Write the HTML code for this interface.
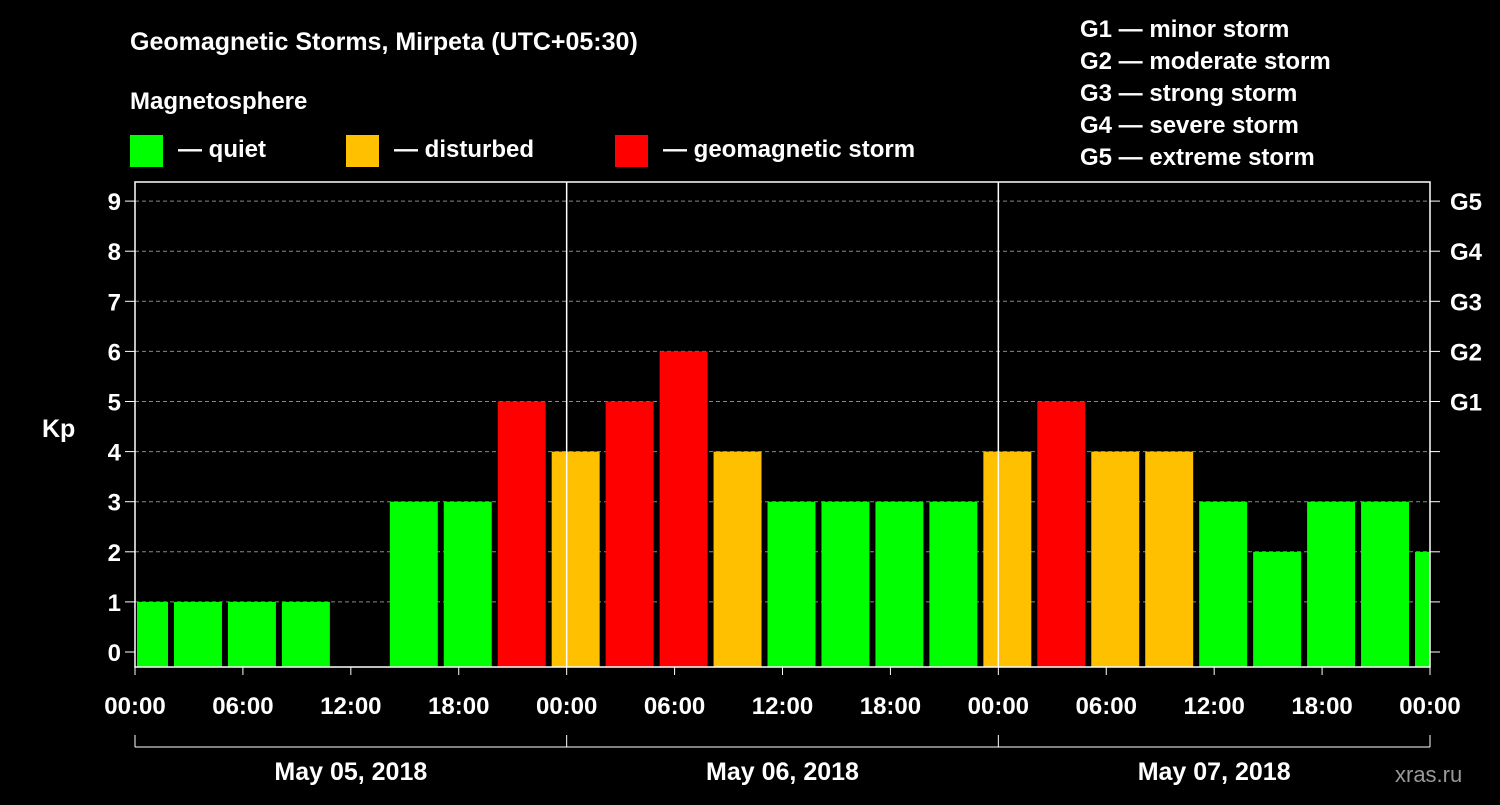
<!DOCTYPE html>
<html><head><meta charset="utf-8"><style>
body{margin:0;background:#000;}
svg text{font-family:"Liberation Sans",Arial,sans-serif;font-weight:bold;fill:#fff;}
</style></head><body>
<svg id="chart" width="1500" height="800" xmlns="http://www.w3.org/2000/svg">
<rect width="1500" height="800" fill="#000"/>
<text x="130" y="50" font-size="25">Geomagnetic Storms, Mirpeta (UTC+05:30)</text>
<text x="130" y="109" font-size="24">Magnetosphere</text>
<g>
<rect x="130" y="135" width="33" height="32" fill="#00ff00"/>
<text x="178" y="157" font-size="24">— quiet</text>
<rect x="346" y="135" width="33" height="32" fill="#ffc000"/>
<text x="394" y="157" font-size="24">— disturbed</text>
<rect x="615" y="135" width="33" height="32" fill="#ff0000"/>
<text x="663" y="157" font-size="24">— geomagnetic storm</text>
</g>
<g font-size="24">
<text x="1080" y="37">G1 — minor storm</text>
<text x="1080" y="69">G2 — moderate storm</text>
<text x="1080" y="101">G3 — strong storm</text>
<text x="1080" y="133">G4 — severe storm</text>
<text x="1080" y="165">G5 — extreme storm</text>
</g>
<text x="42" y="437" font-size="25">Kp</text>
<text x="1395" y="782" font-size="22" fill="#888" style="fill:#999;font-weight:normal">xras.ru</text>
<g id="grid"></g><g id="bars"></g><g id="axes"></g>
</svg>
<script>
const kpValues=[1,1,1,1,0,3,3,5,4,5,6,4,3,3,3,3,4,5,4,4,3,2,3,3,2];
const yTicks=[0,1,2,3,4,5,6,7,8,9];
const gLabels=["","","","","","G1","G2","G3","G4","G5"];
const xTickLabels=["00:00","06:00","12:00","18:00","00:00","06:00","12:00","18:00","00:00","06:00","12:00","18:00","00:00"];
const dayLabels=["May 05, 2018","May 06, 2018","May 07, 2018"];
const firstBarStartHour=-0.833, barSpanHours=2.667;
const NS="http://www.w3.org/2000/svg";
const L=135,R=1430,T=182,B=667;
const x=h=>L+(R-L)*h/72;
const y=v=>652-v*50.1;
function mk(tag,at,parent){const e=document.createElementNS(NS,tag);for(const k in at)e.setAttribute(k,at[k]);parent.appendChild(e);return e;}
const grid=document.getElementById('grid'),bars=document.getElementById('bars'),axes=document.getElementById('axes');
yTicks.forEach(v=>{
 if(v>0){const gl=mk('line',{x1:L,x2:R,y1:y(v),y2:y(v),stroke:'#888','stroke-dasharray':'4,3','stroke-width':1},grid);
 }
 mk('line',{x1:L-10,x2:L,y1:y(v),y2:y(v),stroke:'#fff'},axes);
 mk('line',{x1:R,x2:R+10,y1:y(v),y2:y(v),stroke:'#fff'},axes);
 const t=mk('text',{x:L-14,y:y(v)+9,'font-size':24,'text-anchor':'end'},axes);t.textContent=v;
 
 if(gLabels[v]){const g=mk('text',{x:R+20,y:y(v)+9,'font-size':24},axes);g.textContent=gLabels[v];
 }
});
kpValues.forEach((v,i)=>{
 const s=Math.max(0,firstBarStartHour+3*i), e=Math.min(72,firstBarStartHour+3*i+barSpanHours);
 if(v<=0||e<=s)return;
 const c=v>=5?'#ff0000':(v>=4?'#ffc000':'#00ff00');
 const b=mk('rect',{x:x(s)+(s===0?2:0),y:y(v),width:x(e)-x(s)-(s===0?2:0),height:B-y(v),fill:c},bars);
 
});
mk('rect',{x:L,y:T,width:R-L,height:B-T,fill:'none',stroke:'#fff','stroke-width':1.5},axes);
[24,48].forEach(h=>mk('line',{x1:x(h),x2:x(h),y1:T,y2:B,stroke:'#fff','stroke-width':1.5},axes));
xTickLabels.forEach((l,i)=>{
 const xx=x(i*6);
 mk('line',{x1:xx,x2:xx,y1:B,y2:B+8,stroke:'#fff'},axes);
 const t=mk('text',{x:xx,y:714,'font-size':24,'text-anchor':'middle'},axes);t.textContent=l;
 
});
mk('line',{x1:L,x2:R,y1:747,y2:747,stroke:'#fff'},axes);
[0,24,48,72].forEach(h=>mk('line',{x1:x(h),x2:x(h),y1:735,y2:747,stroke:'#fff'},axes));
dayLabels.forEach((d,i)=>{const t=mk('text',{x:x(i*24+12),y:780,'font-size':25,'text-anchor':'middle'},axes);t.textContent=d;
 });
</script>
</body></html>
